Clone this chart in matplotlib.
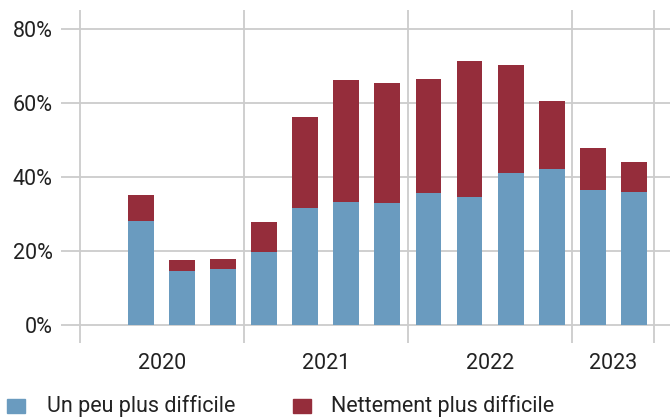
import matplotlib
matplotlib.use("Agg")
import matplotlib.pyplot as plt
from matplotlib.patches import Rectangle

# Data (quarters Q2 2020 .. Q3 2023)
quarters = ["2020T2", "2020T3", "2020T4",
            "2021T1", "2021T2", "2021T3", "2021T4",
            "2022T1", "2022T2", "2022T3", "2022T4",
            "2023T1", "2023T2"]
un_peu = [28.1, 14.6, 15.1, 19.7, 31.6, 33.2, 33.0, 35.7, 34.6, 41.1, 42.2, 36.5, 35.9]
total = [35.1, 17.6, 17.8, 27.8, 56.2, 66.2, 65.4, 66.5, 71.4, 70.3, 60.5, 47.8, 44.1]
nettement = [round(t - u, 1) for t, u in zip(total, un_peu)]
years = ["2020", "2021", "2022", "2023"]
year_quarters = [4, 4, 4, 2]   # slots per year on the axis
first_slot = 1                 # 2020 Q1 has no data
yticks = [0, 20, 40, 60, 80]
series_names = ["Un peu plus difficile", "Nettement plus difficile"]

BLUE = "#6a9bbf"
RED = "#952d3b"
GRID = "#cccccc"
TXT = "#222222"

plt.rcParams["font.family"] = ["Roboto", "DejaVu Sans"]
FS = 15.5

W, H = 670, 417
fig = plt.figure(figsize=(W / 100, H / 100), dpi=100)
ax = fig.add_axes([61 / W, (H - 343) / H, (670 - 61) / W, 333 / H])

x = [first_slot + i + 0.5 for i in range(len(quarters))]
ax.bar(x, un_peu, width=0.634, color=BLUE, zorder=3)
ax.bar(x, nettement, bottom=un_peu, width=0.634, color=RED, zorder=3)

ax.set_xlim(-0.463, 14.39)
ax.set_ylim(-4.86, 85.14)

for s in ax.spines.values():
    s.set_visible(False)

for yv in yticks:
    ax.axhline(yv, color=GRID, lw=1.3, zorder=1)

bounds = [0]
for n in year_quarters:
    bounds.append(bounds[-1] + n)
for b in bounds:
    ax.axvline(b, color=GRID, lw=1.3, zorder=1)

ax.set_yticks(yticks)
ax.set_yticklabels([f"{v}%" for v in yticks], fontsize=FS, color=TXT)
centers = [(bounds[i] + bounds[i + 1]) / 2 for i in range(len(years))]
ax.set_xticks(centers)
ax.set_xticklabels(years, fontsize=FS, color=TXT)
ax.tick_params(axis="both", length=0)
ax.tick_params(axis="y", pad=6)
ax.tick_params(axis="x", pad=7)

# Legend (manual)
def fx(px):
    return px / W

def fy(py):
    return (H - py) / H

for color, sx, tx, name in [(BLUE, 7, 47, series_names[0]), (RED, 293, 331, series_names[1])]:
    fig.patches.append(Rectangle((fx(sx), fy(413)), 18 / W, 14 / H, transform=fig.transFigure,
                                 color=color, figure=fig))
    fig.text(fx(tx), fy(406), name, fontsize=FS, color=TXT, va="center", ha="left")

fig.savefig("out.png", dpi=100)
